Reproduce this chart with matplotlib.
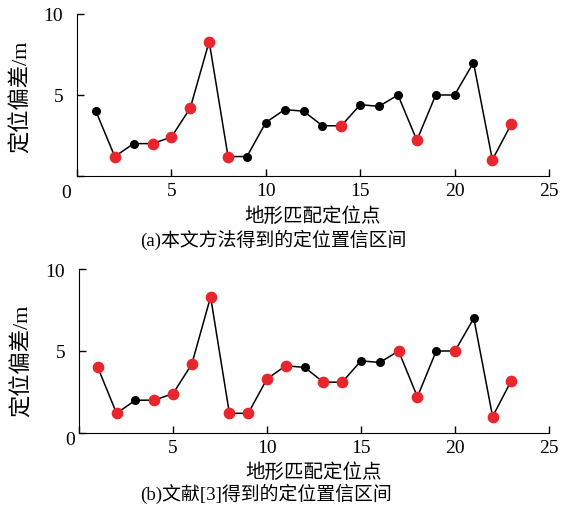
import matplotlib
matplotlib.use('Agg')
import matplotlib.pyplot as plt
import numpy as np

plt.rcParams['font.family'] = ['Liberation Serif', 'Noto Sans CJK SC']
plt.rcParams['axes.unicode_minus'] = False

# Data
points = list(range(1, 24))
errors = [4.0, 1.2, 2.0, 2.0, 2.4, 4.2, 8.3, 1.2, 1.2, 3.3, 4.1, 4.0,
          3.1, 3.1, 4.4, 4.3, 5.0, 2.2, 5.0, 5.0, 7.0, 1.0, 3.2]
# points inside the interval (red) for each method
red_a = [2, 4, 5, 6, 7, 8, 14, 18, 22, 23]
red_b = [1, 2, 4, 5, 6, 7, 8, 9, 10, 11, 13, 14, 17, 18, 20, 22, 23]

xlabel = '地形匹配定位点'
ylabel = '定位偏差/m'
captions = ['(a)本文方法得到的定位置信区间', '(b)文献[3]得到的定位置信区间']

RED = '#e8262d'

fig = plt.figure(figsize=(5.65, 5.06), dpi=100)

# per-panel layout: axes rect, caption y, xlabel y, ylabel (x, y), corner "0" offset
panels = [
    dict(rect=[0.1363, 0.6502, 0.8354, 0.3202], reds=red_a, cap=captions[0],
         cap_y=0.526, xl_y=-0.185, yl=(-0.095, 0.494), zero=(-0.023, -0.10)),
    dict(rect=[0.1398, 0.1423, 0.8319, 0.3241], reds=red_b, cap=captions[1],
         cap_y=0.024, xl_y=-0.177, yl=(-0.098, 0.445), zero=(-0.019, -0.037)),
]

for p in panels:
    ax = fig.add_axes(p['rect'])
    x = np.array(points)
    y = np.array(errors)
    is_red = np.isin(x, p['reds'])
    ax.plot(x, y, color='black', lw=1.1, zorder=1)
    ax.scatter(x[~is_red], y[~is_red], s=30, color='black', zorder=2)
    ax.scatter(x[is_red], y[is_red], s=55, color=RED, zorder=3)

    ax.set_xlim(0, 25)
    ax.set_ylim(0, 10)
    ax.set_xticks([0, 5, 10, 15, 20, 25])
    ax.set_xticklabels(['', '5', '10', '15', '20', '25'])
    ax.set_yticks([0, 5, 10])
    ax.set_yticklabels(['', '5', '10'])
    ax.spines['top'].set_visible(False)
    ax.spines['right'].set_visible(False)
    ax.tick_params(direction='in', length=5, width=1, labelsize=14)
    ax.tick_params(axis='x', pad=4)
    ax.tick_params(axis='y', pad=10)
    ax.text(p['zero'][0], p['zero'][1], '0', transform=ax.transAxes, fontsize=14,
            ha='center', va='center')

    ax.set_xlabel(xlabel, fontsize=14)
    ax.xaxis.set_label_coords(0.5, p['xl_y'])
    ax.set_ylabel(ylabel, fontsize=16)
    ax.yaxis.set_label_coords(*p['yl'])

    fig.text(0.248, p['cap_y'], p['cap'], fontsize=13.6, ha='left', va='center')

plt.savefig('out.png', dpi=100)
